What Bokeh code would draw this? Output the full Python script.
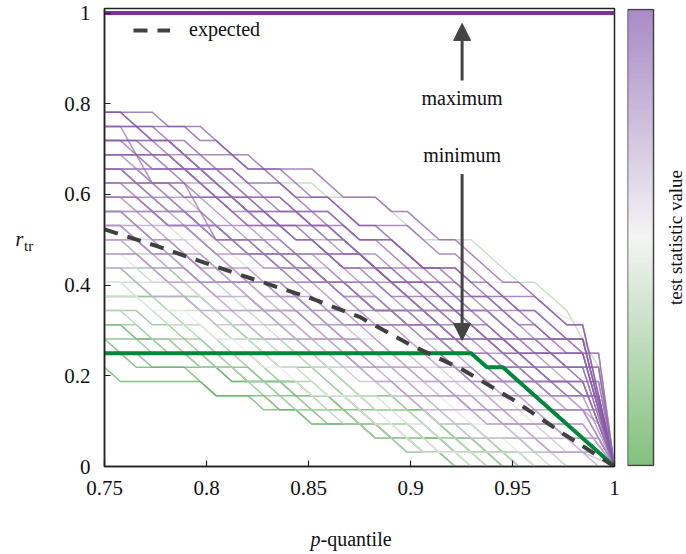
import numpy as np
from bokeh.plotting import figure
from bokeh.models import (ColumnDataSource, Range1d, FixedTicker, Label, Arrow,
                          NormalHead, LinearColorMapper)
from bokeh.core.properties import value
from bokeh.transform import linear_cmap
from bokeh.layouts import row, column
from bokeh.embed import file_html
from bokeh.resources import INLINE

FONT = "'Liberation Serif', serif"

# p-quantile grid (index k -> p)
p_grid = [0.75, 0.7578, 0.7656, 0.7734, 0.7813, 0.7891, 0.7969, 0.8047, 0.8125,
          0.8203, 0.8281, 0.8359, 0.8438, 0.8516, 0.8594, 0.8672, 0.875, 0.8828,
          0.8906, 0.8984, 0.9063, 0.9141, 0.9219, 0.9297, 0.9375, 0.9453, 0.9531,
          0.9609, 0.9688, 0.9766, 0.9844, 0.9922, 1.0]

# simulated curves: corners as (grid index k, r_tr in 32nds)
c01 = [(0,25),(1,25),(2,24),(5,24),(6,23),(7,23),(9,21),(10,21),(12,19),(14,19),(16,17),(17,17),(20,14),(22,14),(24,12),(25,12),(28,9),(30,9),(32,0)]
c02 = [(0,24),(3,24),(5,22),(8,22),(9,21),(11,21),(13,19),(14,19),(16,17),(19,17),(21,15),(22,15),(25,12),(27,12),(29,10),(30,10),(32,0)]
c03 = [(0,23),(4,23),(9,18),(13,18),(17,14),(19,14),(24,9),(27,9),(29,7),(30,7),(32,0)]
c04 = [(0,23),(2,23),(4,21),(5,21),(7,19),(9,19),(11,17),(12,17),(14,15),(16,15),(18,13),(20,13),(22,11),(23,11),(26,8),(30,8),(32,0)]
c05 = [(0,22),(5,22),(10,17),(14,17),(18,13),(22,13),(26,9),(29,9),(30,8),(31,8),(32,0)]
c06 = [(0,22),(4,22),(6,20),(7,20),(9,18),(12,18),(14,16),(15,16),(17,14),(18,14),(20,12),(22,12),(23,11),(25,11),(27,9),(29,9),(30,8),(31,8),(32,0)]
c07 = [(0,21),(2,21),(4,19),(6,19),(9,16),(11,16),(12,15),(14,15),(16,13),(17,13),(19,11),(21,11),(23,9),(25,9),(27,7),(30,7),(32,0)]
c08 = [(0,21),(1,21),(2,20),(4,20),(5,19),(7,19),(8,18),(10,18),(12,16),(13,16),(15,14),(16,14),(18,12),(19,12),(21,10),(24,10),(26,8),(28,8),(29,7),(31,7),(32,0)]
c09 = [(0,20),(6,20),(11,15),(16,15),(20,11),(24,11),(27,8),(30,8),(32,0)]
c10 = [(0,20),(1,20),(4,17),(10,17),(14,13),(18,13),(22,9),(24,9),(27,6),(30,6),(32,0)]
c11 = [(0,19),(2,19),(4,17),(7,17),(9,15),(10,15),(12,13),(14,13),(15,12),(17,12),(19,10),(21,10),(22,9),(24,9),(26,7),(27,7),(29,5),(31,5),(32,0)]
c12 = [(0,19),(1,19),(2,18),(5,18),(7,16),(8,16),(10,14),(12,14),(13,13),(15,13),(17,11),(18,11),(20,9),(22,9),(24,7),(26,7),(28,5),(30,5),(32,0)]
c13 = [(0,18),(2,18),(7,13),(12,13),(15,10),(19,10),(23,6),(27,6),(29,4),(31,4),(32,0)]
c14 = [(0,18),(1,18),(3,16),(4,16),(6,14),(9,14),(10,13),(11,13),(13,11),(15,11),(16,10),(18,10),(20,8),(21,8),(23,6),(25,6),(27,4),(30,4),(32,0)]
c15 = [(0,17),(5,17),(10,12),(12,12),(17,7),(20,7),(23,4),(27,4),(28,3),(30,3),(32,0)]
c16 = [(0,17),(1,17),(3,15),(6,15),(8,13),(10,13),(11,12),(13,12),(15,10),(16,10),(18,8),(20,8),(21,7),(23,7),(25,5),(27,5),(28,4),(31,4),(32,0)]
c17 = [(0,24),(1,24),(3,20),(5,20),(7,16),(9,16),(10,15),(12,15),(14,13),(15,13),(17,11),(19,11),(21,9),(23,9),(25,7),(27,7),(29,5),(31,5),(32,0)]
c18 = [(0,21),(7,21),(12,16),(15,16),(20,11),(22,11),(26,7),(28,7),(30,5),(31,5),(32,0)]
c19 = [(0,22),(2,22),(3,21),(4,21),(6,19),(7,19),(9,17),(11,17),(12,16),(13,16),(15,14),(17,14),(19,12),(20,12),(22,10),(23,10),(25,8),(26,8),(28,6),(30,6),(32,0)]
c20 = [(0,16),(1,16),(3,14),(5,14),(6,13),(8,13),(10,11),(11,11),(13,9),(15,9),(17,7),(18,7),(20,5),(22,5),(24,3),(26,3),(28,1),(31,1),(32,0)]
c21 = [(0,20),(4,20),(8,16),(10,16),(12,14),(14,14),(17,11),(19,11),(21,9),(22,9),(24,7),(26,7),(28,5),(29,5),(30,4),(31,4),(32,0)]
c22 = [(0,19),(2,19),(4,17),(5,17),(7,15),(10,15),(12,13),(13,13),(15,11),(16,11),(17,10),(20,10),(22,8),(30,8),(32,0)]
c23 = [(0,18),(1,18),(6,13),(10,13),(13,10),(20,10),(24,6),(30,6),(32,0)]
c24 = [(0,15),(2,15),(4,13),(6,13),(8,11),(10,11),(12,9),(14,9),(16,7),(17,7),(19,5),(23,5),(25,3),(30,3),(32,0)]
c25 = [(0,25),(3,25),(4,24),(6,24),(8,22),(9,22),(10,21),(13,21),(15,19),(17,19),(18,18),(19,18),(21,16),(22,16),(25,13),(26,13),(29,10),(30,10),(32,0)]
c26 = [(0,23),(1,23),(2,22),(4,22),(5,21),(7,21),(9,19),(10,19),(11,18),(14,18),(16,16),(17,16),(19,14),(20,14),(22,12),(24,12),(25,11),(27,11),(29,9),(30,9),(32,0)]
c27 = [(0,16),(2,16),(4,14),(5,14),(7,12),(9,12),(10,11),(12,11),(14,9),(16,9),(17,8),(18,8),(20,6),(21,6),(23,4),(25,4),(26,3),(28,3),(29,2),(31,2),(32,0)]
c28 = [(0,14),(1,14),(3,12),(5,12),(6,11),(8,11),(10,9),(12,9),(13,8),(15,8),(17,6),(18,6),(20,4),(23,4),(24,3),(26,3),(28,1),(30,1),(31,0)]
c29 = [(0,17),(1,17),(3,15),(4,15),(6,13),(9,13),(10,12),(12,12),(14,10),(15,10),(17,8),(18,8),(20,6),(22,6),(23,5),(25,5),(27,3),(29,3),(31,1),(32,0)]
c30 = [(0,16),(5,16),(10,11),(14,11),(18,7),(21,7),(25,3),(28,3),(29,2),(31,2),(32,0)]
c31 = [(0,15),(1,15),(3,13),(5,13),(6,12),(8,12),(10,10),(11,10),(13,8),(15,8),(16,7),(18,7),(20,5),(21,5),(23,3),(25,3),(27,1),(28,1),(29,0)]
c32 = [(0,14),(2,14),(3,13),(5,13),(7,11),(9,11),(11,9),(12,9),(14,7),(16,7),(18,5),(19,5),(21,3),(23,3),(24,2),(27,2),(28,1),(31,1),(32,0)]
c33 = [(0,13),(1,13),(3,11),(5,11),(7,9),(8,9),(10,7),(11,7),(13,5),(15,5),(17,3),(18,3),(20,1),(22,1),(23,0)]
c34 = [(0,17),(2,17),(4,15),(5,15),(7,13),(8,13),(10,11),(13,11),(15,9),(16,9),(18,7),(19,7),(21,5),(24,5),(26,3),(27,3),(29,1),(31,1),(32,0)]
c35 = [(0,12),(2,12),(4,10),(6,10),(7,9),(9,9),(11,7),(12,7),(14,5),(16,5),(18,3),(19,3),(21,1),(23,1),(24,0)]
c36 = [(0,15),(2,15),(7,10),(12,10),(16,6),(19,6),(23,2),(26,2),(27,1),(30,1),(32,0)]
c37 = [(0,20),(2,20),(4,18),(6,18),(8,16),(9,16),(11,14),(13,14),(15,12),(16,12),(18,10),(20,10),(22,8),(23,8),(25,6),(27,6),(29,4),(31,4),(32,0)]
c38 = [(0,22),(2,22),(3,21),(6,21),(7,20),(13,20),(14,19),(17,19),(20,16),(23,16),(26,13),(27,13),(29,11),(31,7),(32,0)]
c39 = [(0,18),(2,18),(4,16),(7,16),(9,14),(11,14),(12,13),(26,13),(28,11),(30,10),(32,0)]
c40 = [(0,7),(1,6),(6,6),(7,5),(10,5),(11,4),(12,4),(13,3),(17,3),(18,2),(21,2),(22,1),(24,1),(25,0)]
c41 = [(0,9),(1,8),(2,7),(7,7),(8,6),(12,6),(13,5),(15,5),(16,4),(20,4),(21,3),(23,3),(24,2),(26,2),(27,1),(28,1),(29,0)]
c42 = [(0,9),(3,9),(4,8),(5,8),(6,7),(9,7),(10,6),(11,6),(13,4),(15,4),(16,3),(19,3),(20,2),(23,2),(24,1),(26,1),(27,0)]
c43 = [(0,10),(1,10),(2,9),(4,9),(5,8),(6,8),(8,6),(10,6),(11,5),(14,5),(15,4),(16,4),(18,2),(21,2),(22,1),(25,1),(26,0)]
c44 = [(0,11),(2,11),(3,10),(4,10),(6,8),(7,8),(9,6),(11,6),(12,5),(14,5),(16,3),(17,3),(19,1),(21,1),(22,0)]
c45 = [(0,12),(6,12),(11,7),(14,7),(17,4),(20,4),(23,1),(25,1),(26,0)]
c46 = [(0,13),(1,13),(2,12),(3,12),(5,10),(6,10),(8,8),(9,8),(11,6),(13,6),(14,5),(15,5),(17,3),(19,3),(20,2),(22,2),(24,0)]
c47 = [(0,14),(4,14),(9,9),(11,9),(15,5),(18,5),(21,2),(23,2),(25,0)]
c48 = [(0,12),(2,12),(4,10),(5,10),(7,8),(9,8),(11,6),(12,6),(14,4),(15,4),(17,2),(18,2),(19,1),(22,1),(23,0)]
c49 = [(0,10),(2,10),(3,9),(6,9),(7,8),(8,8),(10,6),(12,6),(13,5),(15,5),(17,3),(18,3),(20,1),(23,1),(24,0)]
c50 = [(0,15),(2,15),(8,9),(12,9),(16,5),(19,5),(22,2),(24,2),(26,0)]
c51 = [(0,16),(1,16),(2,15),(4,15),(6,13),(7,13),(9,11),(10,11),(12,9),(13,9),(15,7),(16,7),(18,5),(20,5),(22,3),(23,3),(25,1),(26,1),(27,0)]
c52 = [(0,11),(1,11),(3,9),(4,9),(6,7),(8,7),(9,6),(10,6),(12,4),(14,4),(15,3),(17,3),(18,2),(20,2),(21,1),(24,1),(25,0)]
c53 = [(0,14),(1,14),(3,12),(6,12),(8,10),(9,10),(11,8),(13,8),(14,7),(16,7),(18,5),(19,5),(21,3),(22,3),(24,1),(27,1),(28,0)]
c54 = [(0,13),(2,13),(4,11),(6,11),(8,9),(9,9),(11,7),(12,7),(14,5),(16,5),(17,4),(19,4),(21,2),(22,2),(23,1),(26,1),(27,0)]
c55 = [(0,8),(2,8),(3,7),(5,7),(7,5),(9,5),(10,4),(13,4),(14,3),(16,3),(17,2),(19,2),(20,1),(22,1),(23,0)]
c56 = [(0,24),(2,24),(3,23),(5,23),(7,21),(8,21),(10,19),(11,19),(13,17),(15,17),(16,16),(18,16),(20,14),(21,14),(23,12),(24,12),(26,10),(27,10),(29,8),(30,8),(32,0)]
c57 = [(0,23),(3,23),(5,21),(6,21),(8,19),(11,19),(13,17),(14,17),(16,15),(17,15),(19,13),(21,13),(23,11),(24,11),(26,9),(27,9),(29,7),(31,7),(32,0)]
c58 = [(0,22),(1,22),(2,21),(5,21),(7,19),(8,19),(10,17),(13,17),(15,15),(16,15),(18,13),(19,13),(21,11),(22,11),(24,9),(26,9),(28,7),(29,7),(30,6),(31,6),(32,0)]
c59 = [(0,21),(2,21),(8,15),(13,15),(17,11),(20,11),(25,6),(29,6),(30,5),(31,5),(32,0)]
c60 = [(0,20),(2,20),(4,18),(5,18),(7,16),(10,16),(12,14),(13,14),(15,12),(17,12),(19,10),(20,10),(22,8),(23,8),(25,6),(26,6),(28,4),(30,4),(32,0)]
c61 = [(0,19),(3,19),(4,18),(6,18),(8,16),(9,16),(11,14),(13,14),(14,13),(16,13),(18,11),(20,11),(22,9),(25,9),(27,7),(29,7),(30,6),(31,6),(32,0)]
c62 = [(0,18),(4,18),(9,13),(11,13),(16,8),(21,8),(24,5),(29,5),(31,3),(32,0)]
c63 = [(0,17),(1,17),(3,15),(5,15),(7,13),(9,13),(11,11),(12,11),(14,9),(16,9),(17,8),(19,8),(21,6),(23,6),(25,4),(27,4),(29,2),(31,2),(32,0)]
c64 = [(0,25),(1,25),(3,23),(4,23),(6,21),(8,21),(9,20),(11,20),(13,18),(14,18),(16,16),(18,16),(20,14),(22,14),(23,13),(24,13),(26,11),(27,11),(29,9),(30,9),(32,0)]
c65 = [(0,18),(3,18),(8,13),(11,13),(15,9),(17,9),(21,5),(23,5),(26,2),(29,2),(30,1),(31,1),(32,0)]
c66 = [(0,16),(2,16),(4,14),(5,14),(7,12),(8,12),(10,10),(12,10),(14,8),(15,8),(17,6),(18,6),(20,4),(22,4),(24,2),(25,2),(27,0)]
c67 = [(0,14),(1,14),(2,13),(4,13),(6,11),(7,11),(9,9),(11,9),(13,7),(14,7),(16,5),(17,5),(19,3),(20,3),(22,1),(25,1),(26,0)]
c68 = [(0,16),(2,16),(3,15),(5,15),(7,13),(8,13),(10,11),(11,11),(13,9),(14,9),(16,7),(18,7),(19,6),(21,6),(23,4),(24,4),(26,2),(29,2),(30,1),(31,1),(32,0)]
c69 = [(0,21),(1,21),(3,19),(4,19),(6,17),(7,17),(9,15),(11,15),(13,13),(14,13),(16,11),(18,11),(19,10),(21,10),(23,8),(24,8),(26,6),(29,6),(30,5),(31,5),(32,0)]
c70 = [(0,10),(1,10),(3,8),(5,8),(6,7),(8,7),(10,5),(11,5),(13,3),(16,3),(17,2),(19,2),(20,1),(21,1),(22,0)]

curves = [c01, c02, c03, c04, c05, c06, c07, c08, c09, c10, c11, c12, c13, c14,
          c15, c16, c17, c18, c19, c20, c21, c22, c23, c24, c25, c26, c27, c28,
          c29, c30, c31, c32, c33, c34, c35, c36, c37, c38, c39, c40, c41, c42,
          c43, c44, c45, c46, c47, c48, c49, c50, c51, c52, c53, c54, c55, c56,
          c57, c58, c59, c60, c61, c62, c63, c64, c65, c66, c67, c68, c69, c70]
test_stat = [1.00, 0.92, 0.85, 0.95, 0.80, 0.75, 0.70, 0.88, 0.65, 0.78, 0.60, 0.72,
             0.55, 0.68, 0.50, 0.62, 0.83, 0.58, 0.90, 0.45, 0.40, 0.70, 0.65, 0.55,
             0.97, 0.87, 0.52, 0.48, 0.10, 0.25, -0.05, 0.20, 0.00, 0.30, -0.15, 0.35,
             -0.25, -0.35, 0.05, -1.00, -0.95, -0.85, -0.90, -0.70, -0.80, -0.60,
             -0.75, -0.50, -0.65, -0.55, -0.45, -0.40, -0.35, -0.30, -0.90,
             0.93, 0.82, 0.76, 0.66, 0.60, 0.74, 0.57, 0.44, 0.86, 0.15, -0.10,
             -0.20, 0.38, 0.79, -0.70]

# expected curve
expected_p = [0.75, 0.775, 0.8, 0.825, 0.85, 0.875, 0.9, 0.925, 0.95, 0.975, 1.0]
expected_r = [0.523, 0.487, 0.448, 0.41, 0.373, 0.33, 0.268, 0.215, 0.148, 0.072, 0.0]

# observed (minimum) curve
observed_p = [0.75, 0.9297, 0.9375, 0.9453, 1.0]
observed_r = [0.25, 0.25, 0.21875, 0.21875, 0.0]

# maximum curve
maximum_p = [0.75, 1.0]
maximum_r = [1.0, 1.0]

x_ticks = [0.75, 0.8, 0.85, 0.9, 0.95, 1.0]
x_tick_labels = ["0.75", "0.8", "0.85", "0.9", "0.95", "1"]
y_ticks = [0.0, 0.2, 0.4, 0.6, 0.8, 1.0]
y_tick_labels = ["0", "0.2", "0.4", "0.6", "0.8", "1"]


def ramp(c_lo, c_mid, c_hi, n=256):
    def hx(c):
        return [int(c[i:i + 2], 16) for i in (1, 3, 5)]
    lo, mid, hi = hx(c_lo), hx(c_mid), hx(c_hi)
    out = []
    for i in range(n):
        t = i / (n - 1) * 2 - 1
        b, u = (lo, -t) if t < 0 else (hi, t)
        out.append("#%02x%02x%02x" % tuple(int(round(mid[j] + (b[j] - mid[j]) * u)) for j in range(3)))
    return out


line_palette = ramp("#5aab5a", "#ececec", "#8656a6")
bar_palette = ramp("#83c17d", "#f4f4f4", "#a98bc6")

order = sorted(range(len(curves)), key=lambda i: test_stat[i])
src = ColumnDataSource(dict(
    xs=[[p_grid[k] for k, _ in curves[i]] for i in order],
    ys=[[lv / 32 for _, lv in curves[i]] for i in order],
    stat=[test_stat[i] for i in order],
))

TOP, BOTTOM = 8, 49
H_MAIN = 515
FRAME_TOP, FRAME_BOTTOM = TOP, H_MAIN - BOTTOM

p = figure(width=570, height=H_MAIN, x_range=Range1d(0.75, 1.0), y_range=Range1d(0, 1.01),
           output_backend="svg", toolbar_location=None,
           min_border_left=54, min_border_right=6, min_border_top=TOP, min_border_bottom=BOTTOM)
p.grid.visible = False
p.outline_line_color = "#222222"
p.outline_line_width = 1.5

p.multi_line(xs="xs", ys="ys", source=src, line_width=1.5, line_alpha=0.74,
             line_color=linear_cmap("stat", line_palette, -1, 1))

p.line(maximum_p, maximum_r, line_color="#7b3294", line_width=4)
p.line(observed_p, observed_r, line_color="#00873a", line_width=4)
p.line(expected_p, expected_r, line_color="#404040", line_width=4, line_dash="14 10",
       legend_label="expected")

for ax, ticks, labels in ((p.xaxis[0], x_ticks, x_tick_labels), (p.yaxis[0], y_ticks, y_tick_labels)):
    ax.ticker = FixedTicker(ticks=ticks)
    ax.major_label_overrides = {t: l for t, l in zip(ticks, labels)}
    ax.major_tick_in = 6
    ax.major_tick_out = 0
    ax.minor_tick_line_color = None
    ax.axis_line_color = "#222222"
    ax.axis_line_width = 1.5
    ax.major_tick_line_color = "#222222"
    ax.major_tick_line_width = 1.2
    ax.major_label_text_font = FONT
    ax.major_label_text_font_size = "21px"
    ax.major_label_text_color = "#111111"
p.yaxis[0].major_label_standoff = 14
p.xaxis[0].major_label_standoff = 14

lg = p.legend[0]
lg.location = (29, 425)
lg.border_line_color = None
lg.background_fill_alpha = 0
lg.padding = 0
lg.margin = 0
lg.glyph_width = 37
lg.glyph_height = 20
lg.label_standoff = 19
lg.label_text_font = FONT
lg.label_text_font_size = "20px"
lg.label_text_color = "#111111"

arrow_x = 0.9253
p.add_layout(Arrow(end=NormalHead(size=17, fill_color="#444444", line_color="#444444"),
                   x_start=arrow_x, y_start=0.851, x_end=arrow_x, y_end=0.977,
                   line_width=3, line_color="#444444"))
p.add_layout(Arrow(end=NormalHead(size=17, fill_color="#444444", line_color="#444444"),
                   x_start=arrow_x, y_start=0.645, x_end=arrow_x, y_end=0.278,
                   line_width=3, line_color="#444444"))

for txt_s, yv in (("maximum", 0.813), ("minimum", 0.688)):
    p.add_layout(Label(x=arrow_x, y=yv, text=txt_s, text_font=FONT, text_font_size="20px",
                       text_align="center", text_baseline="middle", text_color="#111111"))


def blank(fig):
    fig.grid.visible = False
    fig.outline_line_color = None
    return fig


def txt(fig, x, y, s, size="20px", style="normal", align="center", angle=0.0):
    fig.text(x=[x], y=[y], text=[s], text_font=value(FONT), text_font_size=size,
             text_font_style=style, text_align=align, text_baseline="middle",
             text_color="#111111", angle=angle)


# y-axis title panel (pixel coordinates, frame is aligned with the main frame)
ylab = blank(figure(width=50, height=H_MAIN, x_range=Range1d(0, 50),
                    y_range=Range1d(FRAME_BOTTOM, FRAME_TOP),
                    output_backend="svg", toolbar_location=None,
                    x_axis_location=None, y_axis_location=None,
                    min_border_left=0, min_border_right=0,
                    min_border_top=TOP, min_border_bottom=BOTTOM))
txt(ylab, 15, 238, "r", style="italic", align="left")
txt(ylab, 23.5, 245, "tr", size="15px", align="left")

# colour bar panel
cb = blank(figure(width=66, height=H_MAIN, x_range=Range1d(0, 59), y_range=Range1d(-0.002, 1.002),
                  output_backend="svg", toolbar_location=None,
                  x_axis_location=None, y_axis_location=None,
                  min_border_left=7, min_border_right=0, min_border_top=TOP, min_border_bottom=BOTTOM))
mapper = LinearColorMapper(palette=bar_palette, low=-1, high=1)
gradient = np.linspace(-1, 1, 256).reshape(256, 1)
cb.image(image=[gradient], x=0, y=0, dw=26, dh=1, color_mapper=mapper)
cb.quad(left=[0], right=[26], bottom=[0], top=[1], fill_alpha=0,
        line_color="#444444", line_width=1.5)
txt(cb, 47.5, 0.5, "test statistic value", size="19px", angle=np.pi / 2)

# x-axis title panel
xlab = blank(figure(width=686, height=554 - H_MAIN, x_range=Range1d(0, 686), y_range=Range1d(554, H_MAIN),
                    output_backend="svg", toolbar_location=None,
                    x_axis_location=None, y_axis_location=None, min_border=0))
txt(xlab, 320, 538, "p", style="italic", align="right")
txt(xlab, 320, 538, "-quantile", align="left")

layout = column(row(ylab, p, cb), xlab)
open("out.html", "w").write(file_html(layout, INLINE))
